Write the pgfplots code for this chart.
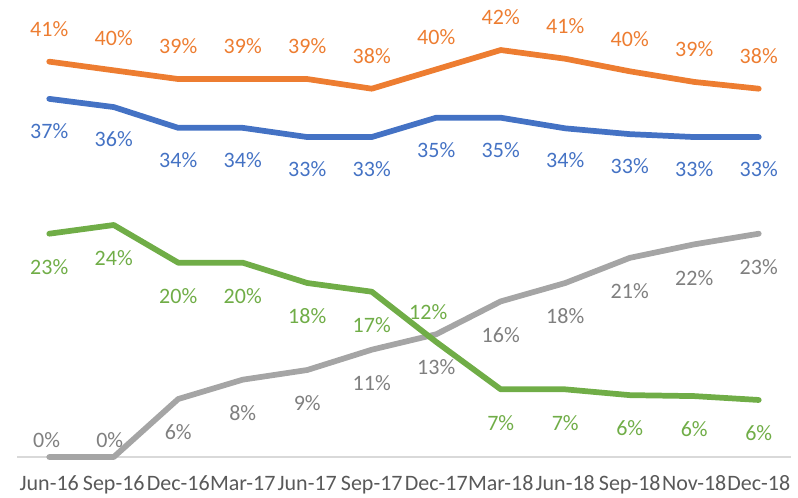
\documentclass[border=0pt]{standalone}
\usepackage{pgfplots}
\pgfplotsset{compat=1.18}
\usepackage{pgfplotstable}
\usepackage{fontspec}
\setmainfont{Carlito}
\definecolor{cOr}{HTML}{ED7D31}
\definecolor{cBl}{HTML}{4472C4}
\definecolor{cGr}{HTML}{A5A5A5}
\definecolor{cGrT}{HTML}{7F7F7F}
\definecolor{cGn}{HTML}{70AD47}
\definecolor{cTick}{HTML}{595959}
\definecolor{cAx}{HTML}{D9D9D9}

\pgfplotstableread{
x y lab dy dx
0 40.9 41 24.5 0
1 40.0 40 24.5 0
2 39.1 39 24.5 0
3 39.1 39 24.5 0
4 39.1 39 24.5 0
5 38.1 38 24.5 0
6 40.1 40 24.5 0
7 42.1 42 24.5 0
8 41.2 41 24.5 0
9 39.9 40 24.5 0
10 38.8 39 24.5 0
11 38.1 38 24.5 0
}\orange
\pgfplotstableread{
x y lab dy dx
0 37.05 37 -24 0
1 36.2 36 -24 0
2 34.05 34 -24 0
3 34.05 34 -24 0
4 33.1 33 -24 0
5 33.1 33 -24 0
6 35.1 35 -24 0
7 35.1 35 -24 0
8 34.0 34 -24 0
9 33.4 33 -24 0
10 33.1 33 -24 0
11 33.1 33 -24 0
}\blue
\pgfplotstableread{
x y lab dy dx
0 0 0 13 -2
1 0 0 13 -3
2 6.0 6 -25 0
3 8.0 8 -25 0
4 9.0 9 -25 0
5 11.1 11 -25 0
6 12.7 13 -25 0
7 16.1 16 -25 0
8 18.0 18 -25 0
9 20.6 21 -25 0
10 22.0 22 -25 0
11 23.1 23 -25 0
}\gray
\pgfplotstableread{
x y lab dy dx
0 23.1 23 -25 0
1 24.0 24 -25 0
2 20.1 20 -25 0
3 20.1 20 -25 0
4 18.0 18 -25 0
5 17.1 17 -25 0
6 11.9 12 22.5 -6
7 7.0 7 -25 0
8 7.0 7 -25 0
9 6.4 6 -25 0
10 6.3 6 -25 0
11 5.9 6 -25 0
}\green

\begin{document}
\fontsize{16.5}{19.8}\selectfont
\begin{tikzpicture}
\begin{axis}[
  scale only axis,
  width=580.5pt, height=326.25pt,
  xmin=-0.5, xmax=11.5, ymin=0, ymax=45,
  axis y line=none,
  axis x line=bottom,
  x axis line style={-, draw=cAx, line width=0.9pt},
  xtick={0,...,11},
  xticklabels={Jun-16,Sep-16,Dec-16,Mar-17,Jun-17,Sep-17,Dec-17,Mar-18,Jun-18,Sep-18,Nov-18,Dec-18},
  major tick length=0pt,
  ytick=\empty,
  xticklabel style={anchor=north, inner sep=0pt, yshift=-14pt, text=cTick, font=\fontsize{16.5}{19.8}\selectfont},
  clip=false,
  every axis plot/.append style={line width=4.3pt, line cap=round, line join=round},
  point meta=explicit symbolic,
  nodes near coords={\pgfplotspointmeta\%},
  visualization depends on={\thisrow{dy} \as \dy},
  visualization depends on={\thisrow{dx} \as \dx},
]
\addplot[cGr, every node near coord/.style={anchor=center, inner sep=0pt, yshift=\dy pt, xshift=\dx pt, text=cGrT, font=\fontsize{16.5}{19.8}\selectfont}] table[x=x, y=y, meta=lab] {\gray};
\addplot[cGn, every node near coord/.style={anchor=center, inner sep=0pt, yshift=\dy pt, xshift=\dx pt, text=cGn, font=\fontsize{16.5}{19.8}\selectfont}] table[x=x, y=y, meta=lab] {\green};
\addplot[cOr, every node near coord/.style={anchor=center, inner sep=0pt, yshift=\dy pt, xshift=\dx pt, text=cOr, font=\fontsize{16.5}{19.8}\selectfont}] table[x=x, y=y, meta=lab] {\orange};
\addplot[cBl, every node near coord/.style={anchor=center, inner sep=0pt, yshift=\dy pt, xshift=\dx pt, text=cBl, font=\fontsize{16.5}{19.8}\selectfont}] table[x=x, y=y, meta=lab] {\blue};
\end{axis}
\pgfresetboundingbox
\path[use as bounding box] (-12.75pt,-30pt) rectangle (585.75pt,342.75pt);
\end{tikzpicture}
\end{document}
